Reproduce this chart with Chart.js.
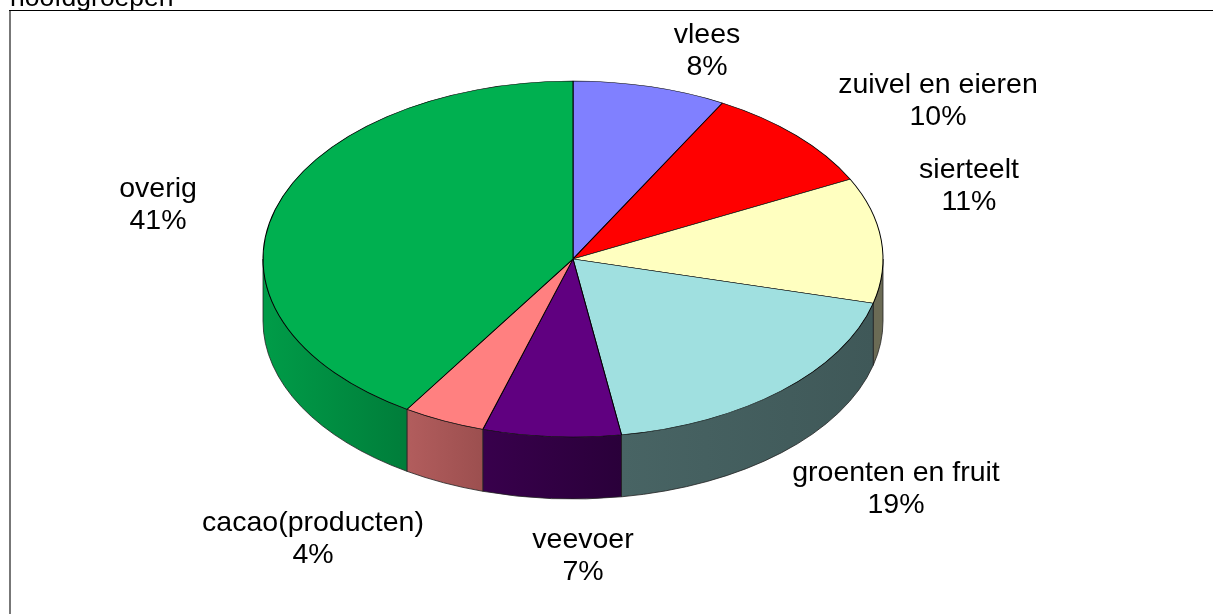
<!DOCTYPE html>
<html>
<head>
<meta charset="utf-8">
<title>hoofdgroepen</title>
<script src="https://cdn.jsdelivr.net/npm/chart.js@4/dist/chart.umd.min.js"></script>
<style>
  html, body { margin: 0; padding: 0; background: #fff; overflow: hidden; }
  canvas { display: block; }
</style>
</head>
<body>
<canvas id="chart" width="1213" height="614"></canvas>
<script>
// values, labels show them rounded
var categories = ['vlees', 'zuivel en eieren', 'sierteelt', 'groenten en fruit', 'veevoer', 'cacao(producten)', 'overig'];
var shares = [8.0, 9.6, 11.4, 18.5, 7.2, 4.3, 41.0];
var percentLabels = ['8%', '10%', '11%', '19%', '7%', '4%', '41%'];

var sliceColors = ['#8080FF', '#FF0000', '#FFFFC0', '#A0E0E0', '#600080', '#FF8080', '#00B050'];
// side wall colours, left to right
var wallLeft = ['#4d4d99', '#990000', '#6b6b55', '#486464', '#38004c', '#b25d5d', '#009c48'];
var wallRight = ['#4d4d99', '#990000', '#6b6b55', '#3f5858', '#2a003a', '#9c4f4f', '#007d3a'];

// centre of each label block on the page
var labelX = [707, 938, 969, 896, 583, 313, 158];
var labelY = [51, 101, 186, 489, 556, 539, 205];

// shape of the tilted pie on the page
var pieX = 573, pieY = 259, pieRx = 310, pieRy = 178, pieDepth = 62;

// squash the round pie into the ellipse and put the side wall under it
var tiltPlugin = {
    id: 'tilt',
    beforeDatasetsDraw: function(chart) {
        var ctx = chart.ctx;
        var arcs = chart.getDatasetMeta(0).data;

        for (var i = 0; i < arcs.length; i++) {
            var a = Math.max(arcs[i].startAngle, 0);
            var b = Math.min(arcs[i].endAngle, Math.PI);
            if (b <= a) {
                continue;
            }
            var x1 = pieX + pieRx * Math.cos(b);
            var x2 = pieX + pieRx * Math.cos(a);
            var grad = ctx.createLinearGradient(x1, 0, x2, 0);
            grad.addColorStop(0, wallLeft[i]);
            grad.addColorStop(1, wallRight[i]);

            ctx.beginPath();
            ctx.ellipse(pieX, pieY, pieRx, pieRy, 0, a, b);
            ctx.ellipse(pieX, pieY + pieDepth, pieRx, pieRy, 0, b, a, true);
            ctx.closePath();
            ctx.fillStyle = grad;
            ctx.fill();
            ctx.lineWidth = 0.8;
            ctx.strokeStyle = '#222';
            ctx.stroke();
        }

        var first = arcs[0];
        ctx.save();
        ctx.translate(pieX, pieY);
        ctx.scale(pieRx / first.outerRadius, pieRy / first.outerRadius);
        ctx.translate(-first.x, -first.y);
    },
    afterDatasetsDraw: function(chart) {
        chart.ctx.restore();
    },
    afterDraw: function(chart) {
        var ctx = chart.ctx;

        // frame, only top and left are on the page
        ctx.strokeStyle = '#777';
        ctx.lineWidth = 2;
        ctx.beginPath();
        ctx.moveTo(10, 10);
        ctx.lineTo(10, 614);
        ctx.stroke();
        ctx.strokeStyle = '#000';
        ctx.lineWidth = 1;
        ctx.beginPath();
        ctx.moveTo(1213, 10.5);
        ctx.lineTo(9, 10.5);
        ctx.stroke();

        ctx.fillStyle = '#000';
        ctx.font = '26.5px "Liberation Sans"';
        ctx.textAlign = 'left';
        ctx.textBaseline = 'alphabetic';
        ctx.fillText('hoofdgroepen', 10, 6);

        ctx.font = '28.5px "Liberation Sans"';
        ctx.textAlign = 'center';
        ctx.textBaseline = 'middle';
        for (var i = 0; i < categories.length; i++) {
            ctx.fillText(categories[i], labelX[i], labelY[i] - 16);
            ctx.fillText(percentLabels[i], labelX[i], labelY[i] + 16);
        }
    }
};

window.onload = function() {
    new Chart(document.getElementById('chart').getContext('2d'), {
        type: 'pie',
        data: {
            labels: categories,
            datasets: [{
                data: shares,
                backgroundColor: sliceColors,
                borderColor: '#000',
                borderWidth: 1,
                borderAlign: 'center'
            }]
        },
        options: {
            responsive: false,
            animation: false,
            layout: { padding: 0 },
            plugins: {
                legend: { display: false },
                tooltip: { enabled: false }
            }
        },
        plugins: [tiltPlugin]
    });
};
</script>
</body>
</html>
